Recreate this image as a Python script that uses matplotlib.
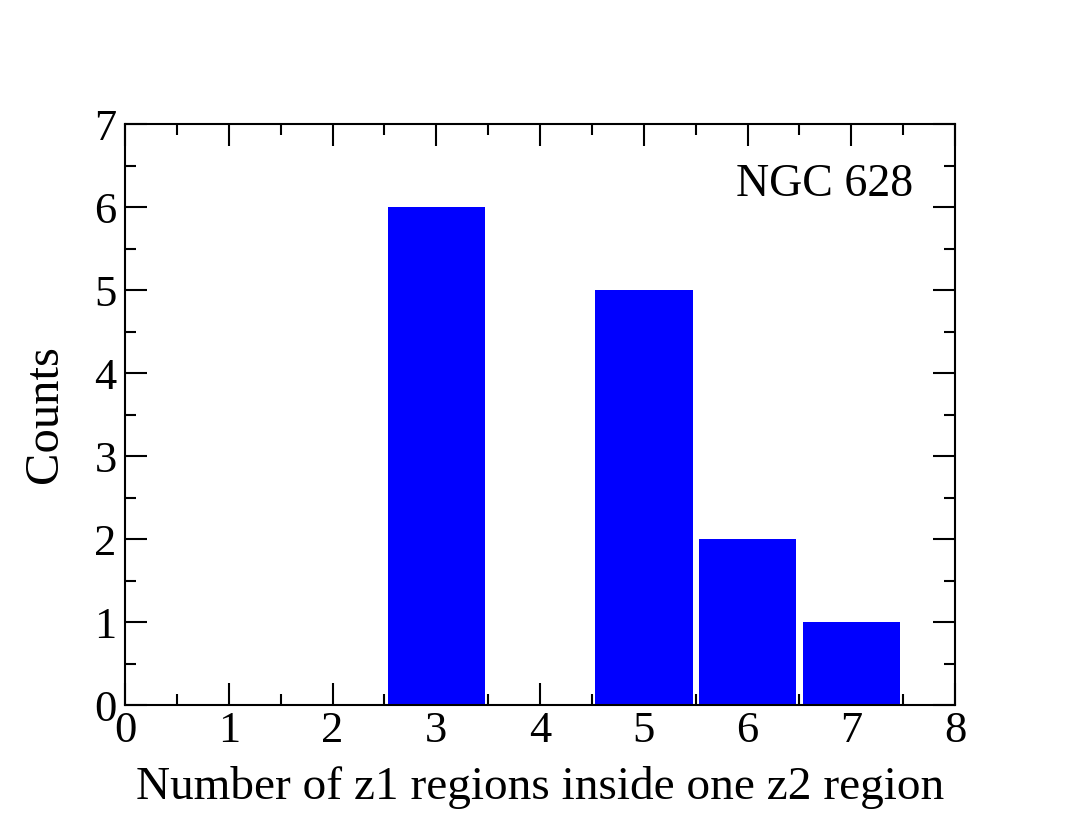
import matplotlib
matplotlib.use("Agg")
import matplotlib.pyplot as plt
from matplotlib.ticker import MultipleLocator

# histogram data
n_z1 = [3, 5, 6, 7]
counts = [6, 5, 2, 1]
label = "NGC 628"

plt.rcParams["font.family"] = ["Liberation Serif", "DejaVu Serif"]

fig = plt.figure(figsize=(10.75, 8.3), dpi=100)
ax = fig.add_axes([0.1163, 0.1506, 0.7721, 0.7])

ax.bar(n_z1, counts, width=0.94, color="#0000ff", zorder=2.6)

ax.set_xlim(0, 8)
ax.set_ylim(0, 7)
ax.xaxis.set_major_locator(MultipleLocator(1))
ax.xaxis.set_minor_locator(MultipleLocator(0.5))
ax.yaxis.set_major_locator(MultipleLocator(1))
ax.yaxis.set_minor_locator(MultipleLocator(0.5))
ax.xaxis.set_zorder(2)
ax.yaxis.set_zorder(2)

ax.tick_params(which="both", direction="in", top=True, right=True, width=1.5,
               labelsize=32)
ax.tick_params(axis="x", pad=4)
ax.tick_params(axis="y", pad=6)
ax.tick_params(which="major", length=16)
ax.tick_params(which="minor", length=8)
for s in ax.spines.values():
    s.set_linewidth(1.5)
    s.set_zorder(3)

ax.set_xlabel("Number of z1 regions inside one z2 region", fontsize=34, labelpad=11)
ax.set_ylabel("Counts", fontsize=35, labelpad=20)
ax.text(0.949, 0.895, label, transform=ax.transAxes, ha="right", va="center",
        fontsize=33)

fig.savefig("out.png", dpi=100)
